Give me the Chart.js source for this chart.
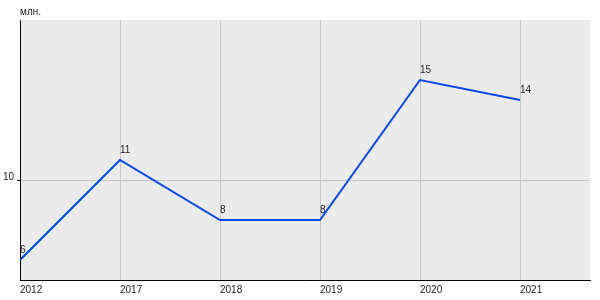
<!DOCTYPE html>
<html>
<head>
<meta charset="utf-8">
<script src="https://cdn.jsdelivr.net/npm/chart.js@4"></script>
<style>
  html, body { margin: 0; padding: 0; background: #fff; }
  #wrap { width: 600px; height: 300px; }
</style>
</head>
<body>
<div id="wrap"><canvas id="chart"></canvas></div>
<script>
// ---- данные ----
const years  = ['2012', '2017', '2018', '2019', '2020', '2021'];
const values = [6, 11, 8, 8, 15, 14];
const yTicks = [10];
const unit   = 'млн.';

const fontFamily = 'Arial, "Liberation Sans", sans-serif';

// фон области графика + подписи
const areaBg = {
  id: 'areaBg',
  beforeDraw(chart) {
    const { ctx, chartArea: a } = chart;
    ctx.save();
    ctx.fillStyle = '#ebebeb';
    ctx.fillRect(a.left, a.top, a.right - a.left, a.bottom - a.top);
    ctx.restore();
  },
  afterDatasetsDraw(chart) {
    const { ctx, chartArea: a } = chart;
    const meta = chart.getDatasetMeta(0);
    ctx.save();
    ctx.font = '10px ' + fontFamily;
    ctx.fillStyle = '#222';
    ctx.textAlign = 'left';
    ctx.textBaseline = 'alphabetic';
    meta.data.forEach((pt, i) => {
      ctx.fillText(String(values[i]), pt.x, pt.y - 7);
    });
    ctx.fillText(unit, a.left, a.top - 5);
    ctx.restore();
  }
};

new Chart(document.getElementById('chart'), {
  type: 'line',
  data: {
    datasets: [{
      data: values.map((v, i) => ({ x: i, y: v })),
      borderColor: '#0048e8',
      borderWidth: 2,
      pointRadius: 0,
      tension: 0,
      fill: false
    }]
  },
  options: {
    responsive: true,
    maintainAspectRatio: false,
    animation: false,
    layout: { padding: { top: 20, right: 10, left: 0, bottom: 0 } },
    plugins: { legend: { display: false }, tooltip: { enabled: false } },
    scales: {
      x: {
        type: 'linear',
        min: 0,
        max: 5.7,
        afterBuildTicks: s => { s.ticks = years.map((_, i) => ({ value: i })); },
        afterFit: s => { s.height = 20; },
        grid: { color: '#c8c8c8', drawTicks: false },
        border: { color: '#000', width: 1 },
        ticks: {
          align: 'start',
          padding: 4,
          color: '#222',
          font: { size: 10, family: fontFamily },
          maxRotation: 0,
          autoSkip: false,
          callback: v => years[v]
        }
      },
      y: {
        min: 5,
        max: 18,
        afterBuildTicks: s => { s.ticks = yTicks.map(v => ({ value: v })); },
        afterFit: s => { s.width = 20; },
        grid: { color: '#c8c8c8', drawTicks: true, tickLength: 3, tickColor: '#000' },
        border: { color: '#000', width: 1 },
        ticks: {
          padding: 3,
          labelOffset: -3,
          color: '#222',
          font: { size: 10, family: fontFamily }
        }
      }
    }
  },
  plugins: [areaBg]
});
</script>
</body>
</html>
